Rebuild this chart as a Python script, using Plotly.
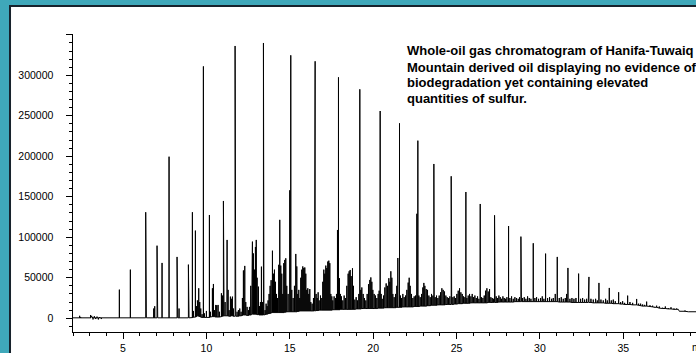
import numpy as np
import plotly.graph_objects as go

# ---- data (retention time in min, abundance) ----
alkane_rt = [4.78, 5.44, 6.36, 7.76, 9.82, 11.72, 13.42, 15.06, 16.52, 17.92, 19.20, 20.42,
             21.58, 22.68, 23.64, 24.68, 25.56, 26.42, 27.28, 28.12, 28.86, 29.60, 30.34,
             31.04, 31.68, 32.32, 32.94, 33.54, 34.16, 34.72, 35.26, 35.80, 36.40, 37.00]
alkane_base = [500, 500, 500, 500, 1000, 2500, 4000, 8000, 9000, 10500, 11500, 12500,
               13500, 14500, 16000, 17000, 18500, 19000, 19500, 20000, 20500, 20500, 20500,
               20500, 20000, 19500, 19500, 19000, 18500, 18000, 17000, 16500, 15000, 13500]
alkane_top = [35300, 60000, 130900, 199500, 311000, 336200, 339900, 324700, 317300, 297500, 282700, 255900,
              240700, 219300, 190500, 175300, 155900, 141100, 127100, 113900, 100800, 92600, 79800,
              75700, 62100, 55100, 51000, 43600, 37400, 32100, 27900, 23800, 20500, 15500]

# (rt, base, top) of the other resolved and unresolved peaks
peaks_early = [
    (2.00, 500, 500), (2.40, 500, 3000), (2.46, 500, 1500), (3.05, 500, 4000), (3.12, 1500, 3000),
    (3.20, 500, -1500), (3.28, 500, 2500), (3.36, 500, -1000), (3.44, 500, 2000), (3.52, 500, -1500),
    (3.60, 500, 1500), (3.70, 500, -1000), (3.80, 500, 500),
    (4.82, 500, 21700), (6.40, 500, 10600), (6.84, 500, 12000), (6.90, 500, 14800),
    (7.04, 500, 89600), (7.08, 500, 29000), (7.34, 500, 68300),
    (8.24, 500, 75700), (8.28, 500, 66200), (8.36, 500, 12000),
    (8.92, 500, 66200), (8.96, 500, 56800),
    (9.16, 800, 130900), (9.22, 1200, 9000), (9.34, 1500, 108200), (9.40, 2000, 15000),
    (9.46, 2500, 22000), (9.50, 3000, 18000), (9.54, 2500, 37000), (9.60, 2000, 20000),
    (9.66, 1500, 12000), (9.74, 1000, 5000),
    (9.88, 1000, 6000), (10.00, 1000, 9000), (10.18, 1000, 127500), (10.24, 1500, 8000),
    (10.36, 2000, 37000), (10.42, 2000, 42300), (10.48, 2000, 10000), (10.56, 1500, 16400),
    (10.62, 1500, 16000), (10.70, 1500, 16400), (10.78, 1500, 8000), (10.90, 2000, 30800),
    (10.96, 2500, 28000), (11.02, 2500, 144800), (11.06, 3000, 139300), (11.12, 3000, 20000),
    (11.24, 3000, 96700), (11.30, 3000, 35000), (11.36, 2500, 10000), (11.44, 2500, 26700),
    (11.50, 3000, 24000), (11.56, 3000, 26700), (11.62, 2500, 12000), (11.76, 2500, 98700),
    (11.84, 2500, 8000), (11.92, 2500, 10000),
]

peaks_mid = [
    (12.00, 3000, 12000), (12.08, 3000, 8000), (12.16, 3500, 25000), (12.22, 4000, 59000),
    (12.30, 4000, 64600), (12.36, 4000, 20000), (12.44, 3500, 14000), (12.52, 3500, 10000),
    (12.58, 4000, 14000), (12.66, 4000, 40000), (12.72, 4500, 85000), (12.76, 5000, 94600),
    (12.82, 5000, 80000), (12.88, 5000, 60000), (12.94, 5000, 88000), (12.99, 5000, 96700),
    (13.04, 4500, 50000), (13.12, 4500, 39000), (13.18, 4000, 15000), (13.24, 4000, 20000),
    (13.30, 4000, 63700), (13.36, 4000, 20000), (13.45, 4000, 316800), (13.52, 4500, 10000),
    (13.58, 5000, 18000), (13.64, 5000, 15000), (13.70, 5500, 22000), (13.76, 6000, 30000),
    (13.82, 6000, 40000), (13.88, 6500, 47000), (13.96, 7000, 83400), (14.02, 7000, 55000),
    (14.08, 7000, 60000), (14.14, 7000, 45000), (14.20, 7000, 30000), (14.26, 7000, 25000),
    (14.34, 7000, 66000), (14.40, 7000, 121500), (14.46, 7000, 65000), (14.52, 7000, 55000),
    (14.58, 7000, 30000), (14.64, 7000, 68000), (14.70, 7500, 72000), (14.76, 7500, 74000),
    (14.82, 8000, 40000), (14.90, 8000, 30000), (15.00, 8000, 158000), (15.12, 8000, 35000),
    (15.20, 8000, 25000), (15.28, 8000, 40000), (15.36, 8000, 79400), (15.42, 8000, 64000),
    (15.48, 8500, 30000), (15.54, 8500, 35000), (15.60, 9000, 25000), (15.66, 9000, 50000),
    (15.72, 9000, 60000), (15.78, 9000, 64000), (15.84, 9000, 62000), (15.90, 9000, 62700),
    (15.96, 9000, 55000), (16.02, 9000, 35000), (16.08, 9000, 37000), (16.14, 9000, 30000),
    (16.20, 9000, 36000), (16.26, 9000, 20000), (16.34, 9000, 18000), (16.42, 9000, 25000),
    (16.48, 9000, 83000), (16.58, 9500, 30000), (16.64, 9500, 25000), (16.70, 9500, 32000),
    (16.76, 10000, 22000), (16.84, 10000, 28000), (16.92, 10000, 25000), (16.98, 10000, 45000),
    (17.04, 10000, 60000), (17.10, 10000, 55000), (17.16, 10000, 65000), (17.22, 10000, 62000),
    (17.28, 10000, 70000), (17.34, 10000, 71100), (17.40, 10000, 68000), (17.46, 10000, 30000),
    (17.52, 10000, 27000), (17.58, 10500, 22000), (17.66, 10500, 27000), (17.74, 10500, 25000),
    (17.80, 10500, 30000), (17.86, 10500, 109000), (17.98, 10500, 49400), (18.04, 11000, 30000),
    (18.10, 11000, 27000), (18.18, 11000, 22000), (18.26, 11000, 28000), (18.34, 11000, 25000),
    (18.42, 11000, 40000), (18.50, 11000, 55000), (18.56, 11000, 58000), (18.62, 11000, 59600),
    (18.68, 11000, 52000), (18.76, 11000, 61700), (18.82, 11000, 40000), (18.90, 11000, 23000),
    (18.98, 11500, 26000), (19.06, 11500, 22000), (19.14, 11500, 30000), (19.26, 11500, 35000),
    (19.32, 12000, 38000), (19.40, 12000, 30000), (19.48, 12000, 25000), (19.56, 12000, 22000),
    (19.64, 12000, 30000), (19.72, 12000, 42000), (19.80, 12000, 47300), (19.86, 12000, 50400),
    (19.92, 12000, 45000), (19.98, 12000, 35000), (20.06, 12000, 30000), (20.14, 12000, 28000),
    (20.22, 12000, 25000), (20.30, 12500, 30000), (20.36, 12500, 34000), (20.48, 12500, 30000),
    (20.54, 12500, 24000), (20.62, 12500, 28000), (20.70, 13000, 38000), (20.78, 13000, 43000),
    (20.86, 13000, 40000), (20.94, 13000, 49400), (21.00, 13000, 45000), (21.06, 13000, 58000),
    (21.12, 13000, 50000), (21.18, 13000, 30000), (21.26, 13000, 26000), (21.34, 13000, 30000),
    (21.42, 13500, 40000), (21.48, 13500, 74400), (21.64, 13500, 28000), (21.70, 13500, 25000),
    (21.78, 14000, 30000), (21.86, 14000, 26000), (21.94, 14000, 28000), (22.02, 14000, 35000),
    (22.10, 14000, 44000), (22.16, 14000, 50000), (22.22, 14000, 40000), (22.30, 14000, 30000),
    (22.38, 14000, 25000), (22.46, 14500, 27000), (22.54, 14500, 28000), (22.62, 14500, 129000),
    (22.74, 14500, 28000), (22.82, 15000, 26000), (22.90, 15000, 30000), (22.98, 15000, 38000),
    (23.04, 15000, 43600), (23.10, 15000, 40000), (23.18, 15000, 36000), (23.26, 15500, 35000),
    (23.34, 15500, 28000), (23.42, 15500, 26000), (23.50, 16000, 30000), (23.58, 16000, 28000),
    (23.66, 16000, 153800), (23.72, 16000, 26000), (23.80, 16000, 28000), (23.88, 16500, 25000),
    (23.96, 16500, 28000), (24.04, 16500, 32000), (24.12, 16500, 37000), (24.20, 16500, 35000),
    (24.28, 16500, 33000), (24.36, 17000, 28000), (24.44, 17000, 26000), (24.52, 17000, 25000),
    (24.60, 17000, 27000), (24.71, 17000, 60000), (24.78, 17000, 26000), (24.86, 17500, 27000),
    (24.94, 17500, 25000),
]

peaks_late = [
    (25.02, 17500, 30000), (25.10, 18000, 34000), (25.18, 18000, 37000), (25.26, 18000, 32000),
    (25.34, 18000, 30000), (25.42, 18500, 27000), (25.50, 18500, 26000), (25.62, 18500, 25000),
    (25.70, 18500, 28000), (25.78, 18500, 30000), (25.86, 19000, 27000), (25.94, 19000, 30000),
    (26.02, 19000, 26000), (26.10, 19000, 28000), (26.18, 19000, 25000), (26.26, 19000, 27000),
    (26.34, 19000, 24000), (26.50, 19000, 26000), (26.58, 19000, 25000), (26.66, 19000, 28000),
    (26.74, 19000, 34000), (26.82, 19000, 37000), (26.90, 19500, 33000), (26.98, 19500, 36000),
    (27.06, 19500, 26000), (27.14, 19500, 25000), (27.22, 19500, 24000), (27.31, 19500, 122000),
    (27.38, 19500, 27000), (27.46, 19500, 25000), (27.54, 20000, 28000), (27.62, 20000, 26000),
    (27.70, 20000, 24000), (27.78, 20000, 27000), (27.86, 20000, 25000), (27.94, 20000, 24000),
    (28.02, 20000, 26000), (28.20, 20000, 25000), (28.30, 20000, 27000), (28.40, 20000, 24000),
    (28.50, 20500, 26000), (28.60, 20500, 25000), (28.70, 20500, 24000), (28.78, 20500, 26000),
    (28.89, 20500, 47300), (28.96, 20500, 25000), (29.06, 20500, 26000), (29.16, 20500, 24000),
    (29.26, 20500, 27000), (29.36, 20500, 25000), (29.46, 20500, 24000), (29.70, 20500, 25000),
    (29.80, 20500, 26000), (29.92, 20500, 24000), (30.04, 20500, 25000), (30.14, 20500, 27000),
    (30.24, 20500, 24000), (30.46, 20500, 25000), (30.58, 20500, 26000), (30.70, 20500, 24000),
    (30.80, 20500, 25000), (30.92, 20500, 30000), (31.16, 20000, 25000), (31.28, 20000, 26000),
    (31.40, 20000, 24000), (31.52, 20000, 25000), (31.60, 20000, 30000), (31.80, 20000, 24000),
    (31.92, 19500, 25000), (32.04, 19500, 24000), (32.16, 19500, 25000), (32.44, 19500, 24000),
    (32.56, 19500, 25000), (32.68, 19500, 23000), (32.80, 19500, 24000), (32.90, 19500, 30000),
    (33.06, 19500, 24000), (33.20, 19000, 23000), (33.34, 19000, 24000), (33.44, 19000, 22000),
    (33.66, 19000, 23000), (33.80, 19000, 22000), (33.94, 18500, 24000), (34.04, 18500, 22000),
    (34.28, 18500, 22000), (34.40, 18000, 23000), (34.52, 18000, 21000), (34.84, 17500, 20000),
    (34.96, 17500, 21000), (35.08, 17000, 19000), (35.40, 17000, 20000), (35.56, 16500, 19000),
    (35.92, 16000, 18000), (36.04, 15500, 18000), (36.16, 15000, 17000), (36.28, 15000, 16500),
    (36.60, 14500, 16000), (36.76, 14000, 15500), (36.88, 13500, 14000), (37.16, 12500, 14500),
    (37.36, 12000, 13000), (37.52, 12000, 14500), (37.70, 11500, 12500), (37.86, 11500, 13500),
    (38.04, 11000, 12000), (38.20, 11000, 12000), (38.30, 11000, 11000), (38.36, 8600, 8600),
    (38.70, 8600, 9500), (38.90, 8000, 8000), (39.40, 8000, 8000),
]

x_tick_vals = [5, 10, 15, 20, 25, 30, 35]
y_tick_vals = [0, 50000, 100000, 150000, 200000, 250000, 300000, 350000]
y_tick_labels = ["0", "50000", "100000", "150000", "200000", "250000", "300000", ""]

caption_lines = [
    "Whole-oil gas chromatogram of Hanifa-Tuwaiq",
    "Mountain derived oil displaying no evidence of",
    "biodegradation yet containing elevated",
    "quantities of sulfur.",
]

# ---- build the trace: each peak drawn as a spike rising from its local baseline ----
other = peaks_early + peaks_mid + peaks_late
rt = np.array(alkane_rt + [p[0] for p in other], dtype=float)
base = np.array(alkane_base + [p[1] for p in other], dtype=float)
top = np.array(alkane_top + [p[2] for p in other], dtype=float)
order = np.argsort(rt, kind="stable")
xs = np.repeat(rt[order], 3)
ys = np.column_stack([base[order], top[order], base[order]]).ravel()

tick_font = dict(family="Liberation Sans Narrow, Arial Narrow, Liberation Sans, Arial, sans-serif",
                 size=10.5, color="black")

fig = go.Figure(go.Scatter(x=xs, y=ys, mode="lines",
                           line=dict(color="black", width=1), hoverinfo="skip"))

fig.update_layout(
    width=696, height=353,
    margin=dict(l=73, r=0, t=34, b=21),
    paper_bgcolor="#3fa8ba",
    plot_bgcolor="white",
    showlegend=False,
    shapes=[dict(type="rect", xref="paper", yref="paper",
                 x0=-0.1011, x1=1.2, y0=-0.3, y1=1.094,
                 fillcolor="white", line=dict(color="#17222c", width=2), layer="below")],
)

fig.update_xaxes(
    range=[2, 39.36], showgrid=False, zeroline=False,
    showline=True, linecolor="black", linewidth=1,
    ticks="outside", ticklen=6, tickcolor="black", tickwidth=1,
    tickmode="array", tickvals=x_tick_vals, tickfont=tick_font,
    minor=dict(dtick=1, tick0=0, ticks="outside", ticklen=3, tickcolor="black", showgrid=False),
)
fig.update_yaxes(
    range=[-17000, 351000], showgrid=False, zeroline=False,
    showline=True, linecolor="black", linewidth=1,
    ticks="outside", ticklen=6, tickcolor="black", tickwidth=1,
    tickmode="array", tickvals=y_tick_vals,
    ticktext=[t + "\u2003" if t else t for t in y_tick_labels], tickfont=tick_font,
    minor=dict(tickmode="array", tickvals=list(range(-10000, 350000, 10000)),
               ticks="outside", ticklen=3, tickcolor="black", showgrid=False),
)

cap_y = [0.943, 0.889, 0.8356, 0.7819]
for line, yy in zip(caption_lines, cap_y):
    fig.add_annotation(text="<b>" + line + "</b>", xref="paper", yref="paper",
                       x=0.5329, y=yy, xanchor="left", yanchor="middle", showarrow=False,
                       font=dict(family="Liberation Sans, Arial, sans-serif", size=13, color="black"))

fig.add_annotation(text="min", xref="paper", yref="paper", x=0.9904, y=-0.052,
                   xanchor="left", yanchor="middle", showarrow=False, font=tick_font)

fig.write_html("out.html")
